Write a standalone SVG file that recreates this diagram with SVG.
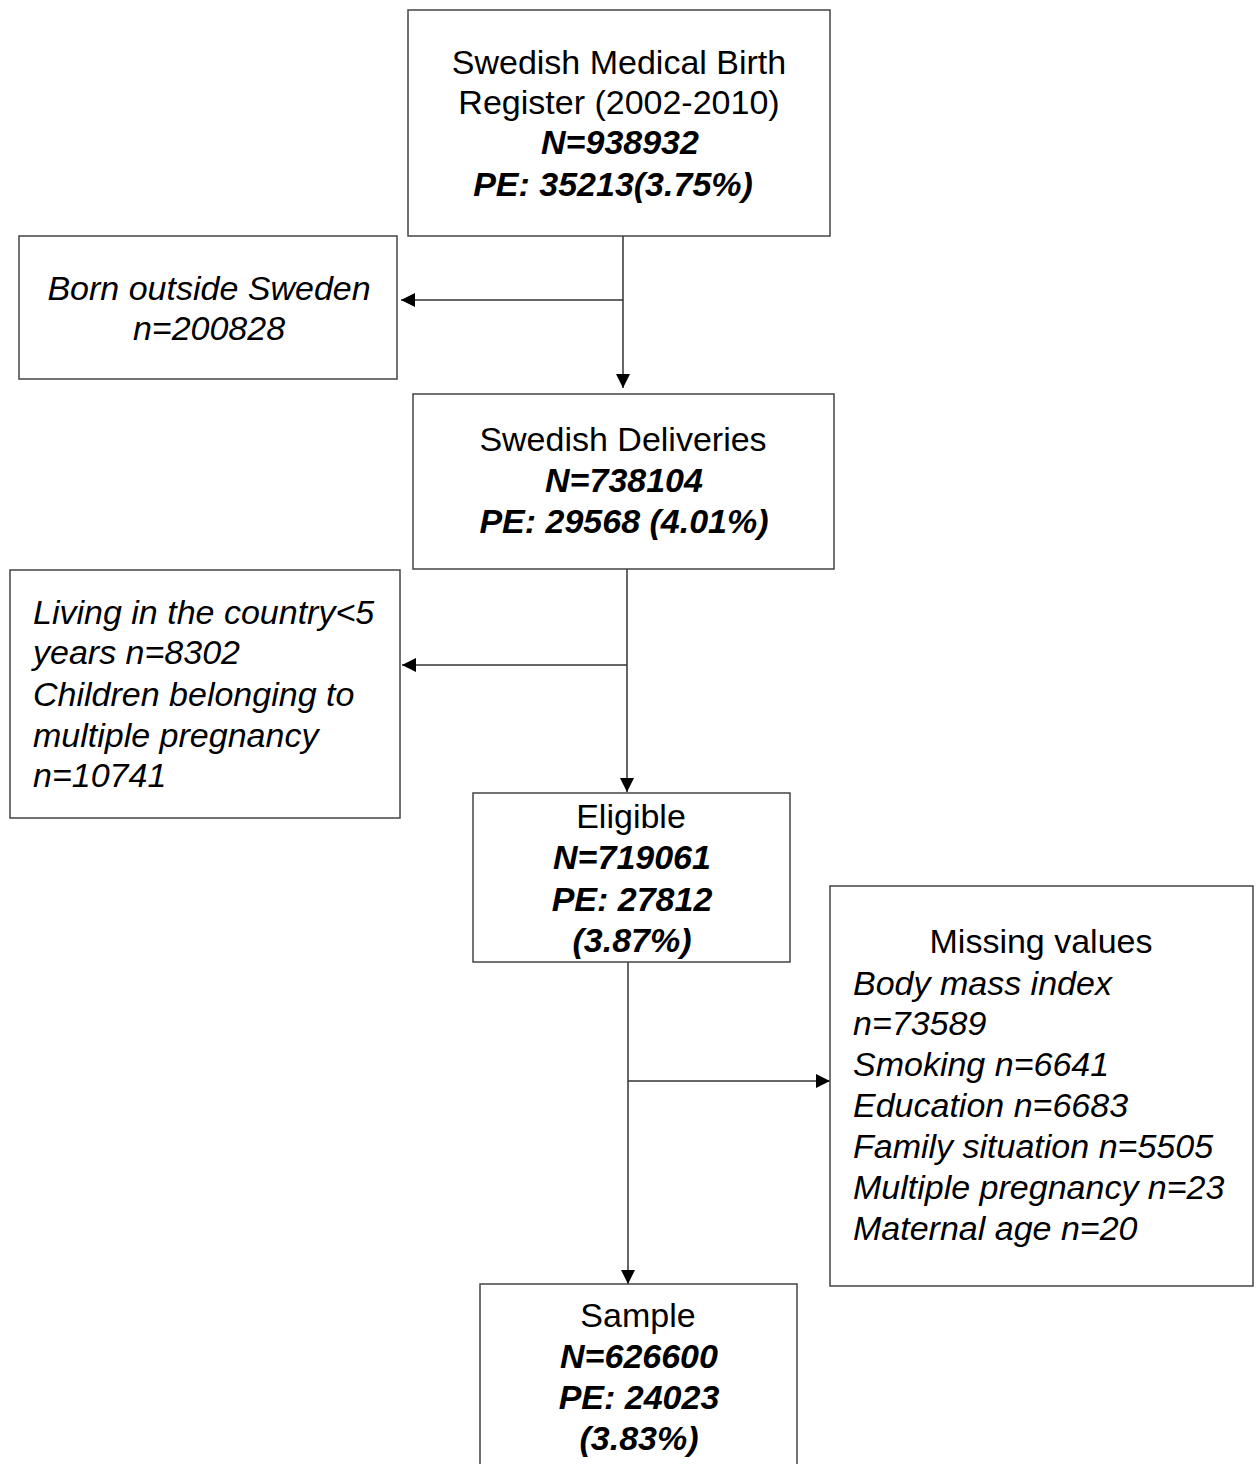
<svg xmlns="http://www.w3.org/2000/svg" width="1259" height="1464" viewBox="0 0 1259 1464">
<style>
.box{fill:#fff;stroke:#444;stroke-width:1.5}
text{font-family:"Liberation Sans",Arial,sans-serif;font-size:34px;fill:#000}
.c{text-anchor:middle}
.i{font-style:italic}
.b{font-weight:bold;font-style:italic}
.ln{stroke:#333;stroke-width:1.5;fill:none}
</style>
<defs>
<marker id="ah" markerWidth="14" markerHeight="14" refX="14" refY="7" orient="auto" markerUnits="userSpaceOnUse">
<path d="M0,0 L14,7 L0,14 Z" fill="#000"/>
</marker>
</defs>
<rect width="1259" height="1464" fill="#fff"/>
<g id="connectors">
<path class="ln" d="M623,231 V388" marker-end="url(#ah)"/>
<path class="ln" d="M623,300 H401" marker-end="url(#ah)"/>
<path class="ln" d="M627,569 V792" marker-end="url(#ah)"/>
<path class="ln" d="M627,665 H402" marker-end="url(#ah)"/>
<path class="ln" d="M628,962 V1284" marker-end="url(#ah)"/>
<path class="ln" d="M628,1081 H830" marker-end="url(#ah)"/>
</g>
<g id="register">
<rect class="box" x="408" y="10" width="422" height="226"/>
<text class="c" x="619" y="74">Swedish Medical Birth</text>
<text class="c" x="619" y="114">Register (2002-2010)</text>
<text class="c b" x="620" y="154">N=938932</text>
<text class="c b" x="613" y="196">PE: 35213(3.75%)</text>
</g>
<g id="born-outside">
<rect class="box" x="19" y="236" width="378" height="143"/>
<text class="c i" x="209" y="300">Born outside Sweden</text>
<text class="c i" x="209" y="340">n=200828</text>
</g>
<g id="deliveries">
<rect class="box" x="413" y="394" width="421" height="175"/>
<text class="c" x="623" y="451">Swedish Deliveries</text>
<text class="c b" x="624" y="492">N=738104</text>
<text class="c b" x="624" y="533">PE: 29568 (4.01%)</text>
</g>
<g id="living">
<rect class="box" x="10" y="570" width="390" height="248"/>
<text class="i" x="33" y="624">Living in the country&lt;5</text>
<text class="i" x="33" y="664">years n=8302</text>
<text class="i" x="33" y="706">Children belonging to</text>
<text class="i" x="33" y="747">multiple pregnancy</text>
<text class="i" x="33" y="787">n=10741</text>
</g>
<g id="eligible">
<rect class="box" x="473" y="793" width="317" height="169"/>
<text class="c" x="631" y="828">Eligible</text>
<text class="c b" x="632" y="869">N=719061</text>
<text class="c b" x="632" y="911">PE: 27812</text>
<text class="c b" x="632" y="952">(3.87%)</text>
</g>
<g id="missing">
<rect class="box" x="830" y="886" width="423" height="400"/>
<text class="c" x="1041" y="953">Missing values</text>
<text class="i" x="853" y="995">Body mass index</text>
<text class="i" x="853" y="1035">n=73589</text>
<text class="i" x="853" y="1076">Smoking n=6641</text>
<text class="i" x="853" y="1117">Education n=6683</text>
<text class="i" x="853" y="1158">Family situation n=5505</text>
<text class="i" x="853" y="1199">Multiple pregnancy n=23</text>
<text class="i" x="853" y="1240">Maternal age n=20</text>
</g>
<g id="sample">
<rect class="box" x="480" y="1284" width="317" height="200"/>
<text class="c" x="638" y="1327">Sample</text>
<text class="c b" x="639" y="1368">N=626600</text>
<text class="c b" x="639" y="1409">PE: 24023</text>
<text class="c b" x="639" y="1450">(3.83%)</text>
</g>
</svg>
